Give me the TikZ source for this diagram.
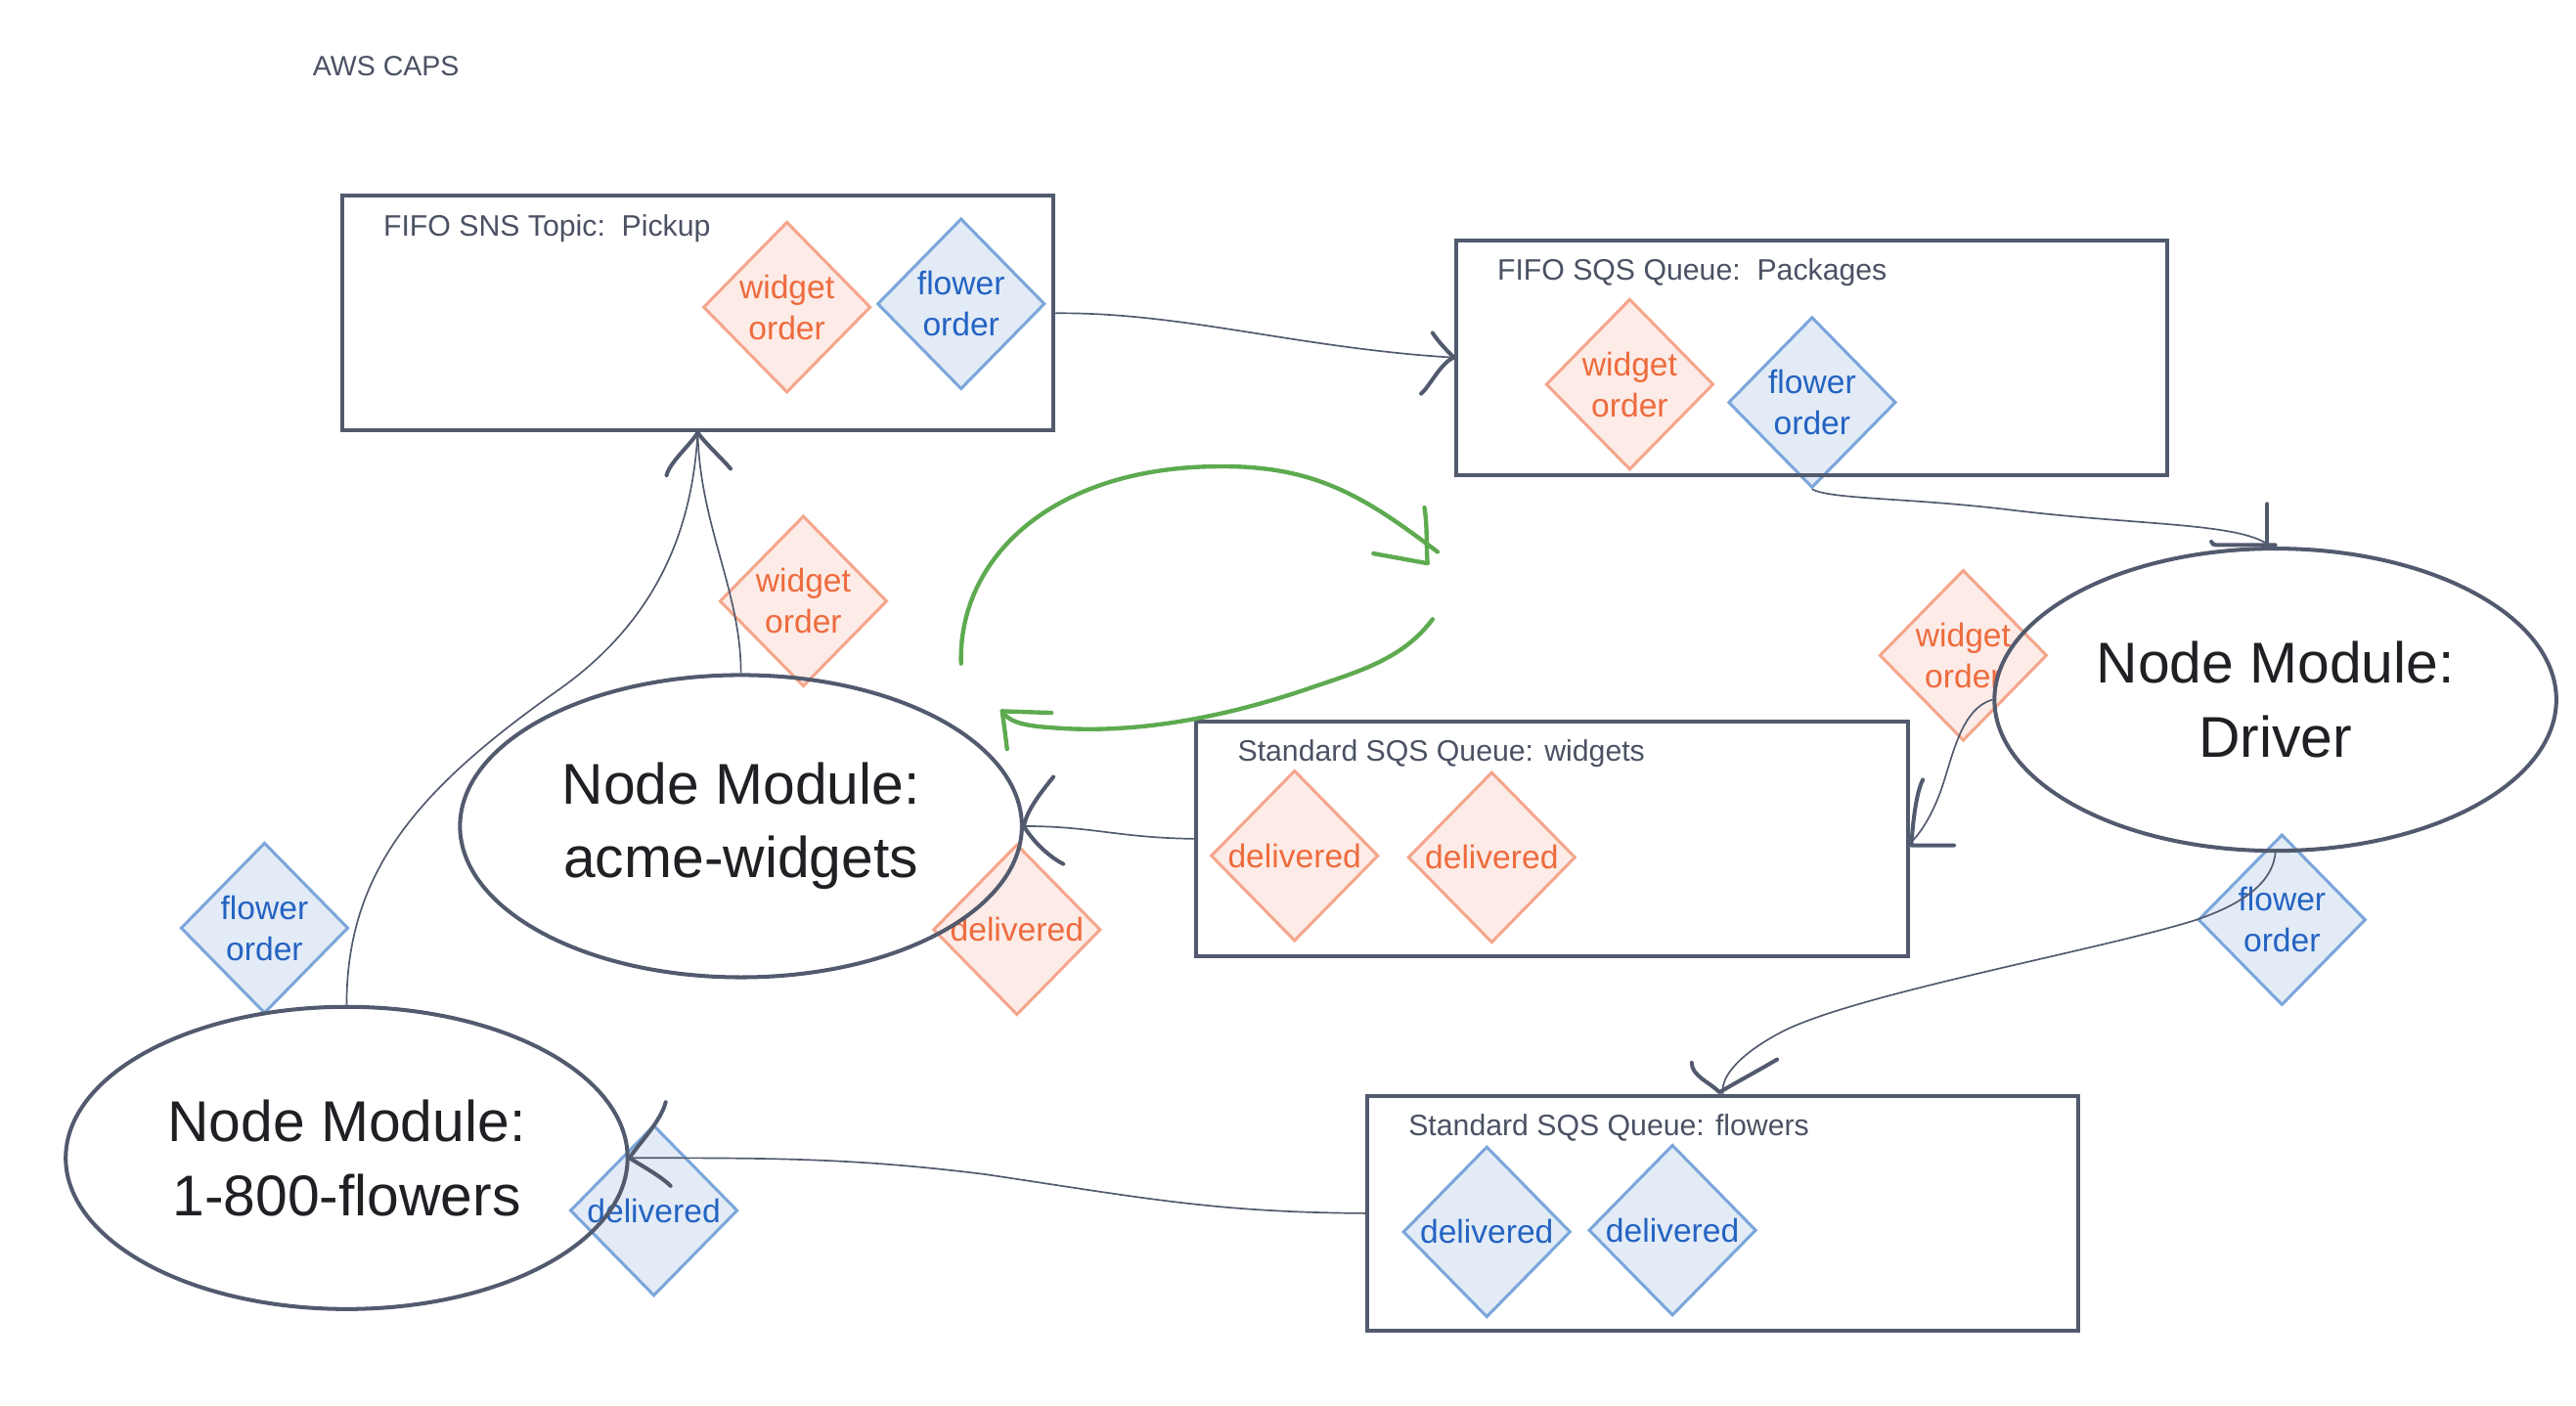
\documentclass[tikz,border=0pt]{standalone}
\usepackage{fontspec}
\setmainfont{Liberation Sans}
\usetikzlibrary{shapes.geometric,calc}
\definecolor{ink}{HTML}{525A6E}
\definecolor{lbl}{HTML}{4B5163}
\definecolor{ostroke}{HTML}{F4A68C}
\definecolor{ofill}{HTML}{FCEBE6}
\definecolor{otext}{HTML}{EE6B3E}
\definecolor{bstroke}{HTML}{7BA6DA}
\definecolor{bfill}{HTML}{E2EBF6}
\definecolor{btext}{HTML}{2463C2}
\definecolor{grn}{HTML}{5EAA50}
\definecolor{dark}{HTML}{1F2024}
\begin{document}
\begin{tikzpicture}[x=0.5pt,y=-0.5pt,
 box/.style={draw=ink, line width=1.2pt, minimum width=216.5pt, minimum height=71.5pt, inner sep=0pt, anchor=north west},
 boxlbl/.style={anchor=base west, inner sep=0pt, text=lbl, font=\fontsize{9}{11}\selectfont},
 modnode/.style={ellipse, draw=ink, line width=1.2pt, minimum width=171pt, minimum height=92pt, inner sep=0pt, align=center, text=dark, font=\fontsize{17.5}{22.5}\selectfont},
 odia/.style={diamond, draw=ostroke, fill=ofill, line width=0.9pt, minimum width=51pt, minimum height=52pt, inner sep=0pt, align=center, text=otext, font=\fontsize{10}{12.5}\selectfont},
 bdia/.style={odia, draw=bstroke, fill=bfill, text=btext},
 conn/.style={draw=ink, line width=0.5pt},
 barb/.style={draw=ink, line width=1.2pt, line cap=round, line join=round},
 gline/.style={draw=grn, line width=1.3pt, line cap=round, line join=round}]
\useasboundingbox (0,0) rectangle (1568,856);

\node[anchor=base west, inner sep=0pt, text=lbl, font=\fontsize{8.5}{10}\selectfont] (title) at (190,46) {AWS CAPS};

% diamonds (messages)
\node[odia] (d1) at (479,187) {widget\\order};
\node[bdia] (d2) at (585,185) {flower\\order};
\node[odia] (d3) at (992,234) {widget\\order};
\node[bdia] (d4) at (1103,245) {flower\\order};
\node[odia] (d5) at (788,521) {delivered};
\node[odia] (d6) at (908,522) {delivered};
\node[bdia] (d7) at (905,750) {delivered};
\node[bdia] (d8) at (1018,749) {delivered};
\node[odia] (d9) at (489,366) {widget\\order};
\node[bdia] (d10) at (161,565) {flower\\order};
\node[odia] (d11) at (619,566) {delivered};
\node[odia] (d12) at (1195,399) {widget\\order};
\node[bdia] (d13) at (1389,560) {flower\\order};
\node[bdia] (d14) at (398,737) {delivered};

% boxes
\node[box] (b1) at (207,118) {};
\node[boxlbl] (b1l) at (233,143.5) {FIFO SNS Topic:\ \ Pickup};
\node[box] (b2) at (885,145) {};
\node[boxlbl] (b2l) at (911,170.5) {FIFO SQS Queue:\ \ Packages};
\node[box] (b3) at (727,438) {};
\node[boxlbl] (b3l) at (753,463.5) {Standard SQS Queue: widgets};
\node[box] (b4) at (831,666) {};
\node[boxlbl] (b4l) at (857,691.5) {Standard SQS Queue: flowers};

% modules
\node[modnode] (acme) at (451,503) {Node Module:\\acme-widgets};
\node[modnode] (drv) at (1385,426) {Node Module:\\Driver};
\node[modnode] (flw) at (211,705) {Node Module:\\1-800-flowers};

% connectors
\draw[conn] (b1.east) .. controls (720,190) and (790,212) .. (b2.west);
\draw[barb] ($(b2.west)+(-13,-15)$) .. controls +(4,6) and +(-4,-4) .. (b2.west) .. controls +(-8,3) and +(5,-4) .. ($(b2.west)+(-20,22)$);

\draw[conn] (d4.south) .. controls (1115,304) and (1160,303) .. (1220,310) .. controls (1300,320) and (1362,318) .. ($(drv.north)+(-4,-1)$);
\draw[barb] ($(drv.north)+(-5,-26)$) -- ($(drv.north)+(-5,-1)$);
\draw[barb] ($(drv.north)+(-39,-3)$) .. controls +(2,2) and +(-10,0) .. ($(drv.north)+(-30,-1)$) -- ($(drv.north)+(0,-1)$);

\draw[conn] (acme.north) .. controls (451,360) and (426,320) .. (b1.south);
\draw[conn] (flw.north) .. controls (211,530) and (255,480) .. (340,420) .. controls (408,372) and (422,310) .. (b1.south);
\draw[barb] ($(b1.south)+(-19,26)$) .. controls +(2,-8) and +(-5,8) .. (b1.south) .. controls +(5,7) and +(-4,-5) .. ($(b1.south)+(20,22)$);

\draw[conn] (b3.west) .. controls (680,510) and (665,503) .. (acme.east);
\draw[barb] ($(acme.east)+(18,-30)$) .. controls +(-8,10) and +(2,-10) .. (acme.east) .. controls +(6,10) and +(-8,-4) .. ($(acme.east)+(24,23)$);

\draw[conn] (drv.west) .. controls (1192,432) and (1188,465) .. (1180,485) .. controls (1174,500) and (1168,508) .. ($(b3.east)+(1,2)$);
\draw[barb] ($(b3.east)+(8,-36)$) .. controls +(-4,8) and +(1,-15) .. ($(b3.east)+(1,4)$) -- ($(b3.east)+(27,4)$);

\draw[conn] (drv.south) .. controls (1383,540) and (1360,552) .. (1337,560) .. controls (1280,578) and (1130,605) .. (1085,628) .. controls (1060,641) and (1047,655) .. (b4.north);
\draw[barb] ($(b4.north)+(-19,-19)$) .. controls +(0,8) and +(-6,-6) .. ($(b4.north)+(-2,-1)$) .. controls +(10,-6) and +(-10,6) .. ($(b4.north)+(33,-21)$);

\draw[conn] (b4.west) .. controls (740,738) and (700,730) .. (600,715) .. controls (520,705) and (470,705) .. (flw.east);
\draw[barb] ($(flw.east)+(22,-34)$) .. controls +(-3,12) and +(5,-8) .. (flw.east) .. controls +(6,4) and +(-6,-6) .. ($(flw.east)+(25,17)$);

% green loop arrows
\draw[gline] (585,404) .. controls (583,340) and (640,285) .. (740,284) .. controls (800,283) and (830,302) .. (875,336);
\draw[gline] (867,309) .. controls (869,320) and (868,335) .. (869,343) -- (836,337);
\draw[gline] (872,377) .. controls (855,400) and (830,408) .. (800,418) .. controls (760,432) and (700,448) .. (640,443) .. controls (625,442) and (614,440) .. (610,433);
\draw[gline] (640,434) -- (610,433) .. controls (611,440) and (612,448) .. (613,456);
\end{tikzpicture}
\end{document}
